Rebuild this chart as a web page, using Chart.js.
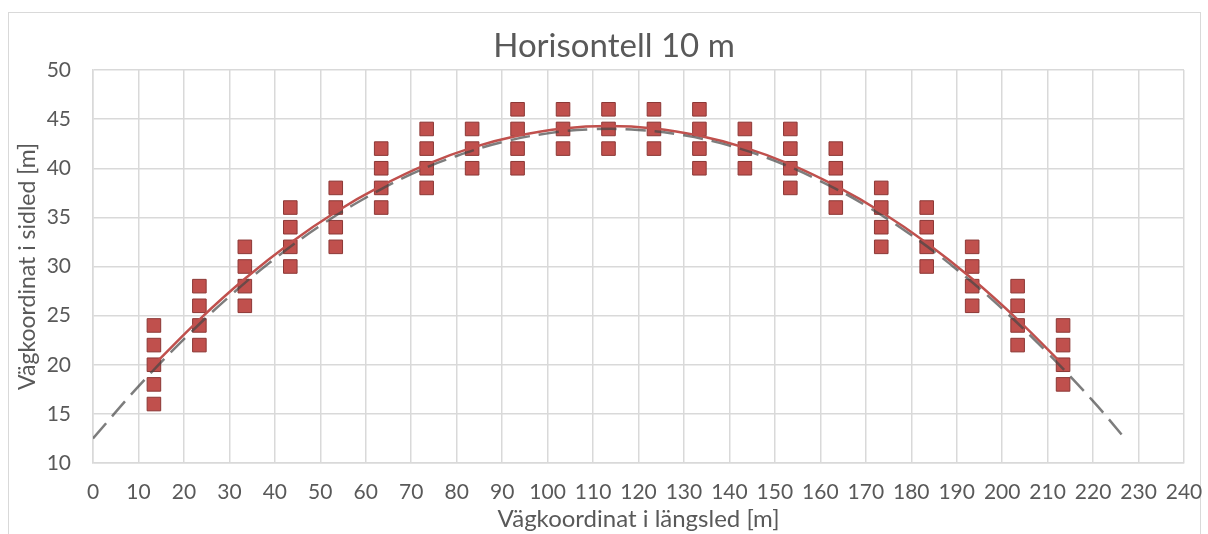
<!DOCTYPE html>
<html>
<head>
<meta charset="utf-8">
<script src="https://cdn.jsdelivr.net/npm/chart.js@4/dist/chart.umd.min.js"></script>
<style>
  html, body { margin: 0; padding: 0; background: #fff; }
  #wrap { position: relative; width: 1208px; height: 534px; overflow: hidden; }
  #frame { position: absolute; left: 8px; top: 12px; width: 1191px; height: 540px; border: 1px solid #d9d9d9; }
  canvas { position: absolute; left: 0; top: 0; }
</style>
</head>
<body>
<div id="wrap">
  <div id="frame"></div>
  <canvas id="chart" width="1208" height="534"></canvas>
</div>
<script>
// measured positions (x) and lateral coordinate (y) of the markers
const colX = [13.4, 23.4, 33.4, 43.4, 53.4, 63.4, 73.4, 83.4, 93.4, 103.4, 113.4,
              123.4, 133.4, 143.4, 153.4, 163.4, 173.4, 183.4, 193.4, 203.4, 213.4];
const colY = [
  [16, 18, 20, 22, 24],
  [22, 24, 26, 28],
  [26, 28, 30, 32],
  [30, 32, 34, 36],
  [32, 34, 36, 38],
  [36, 38, 40, 42],
  [38, 40, 42, 44],
  [40, 42, 44],
  [40, 42, 44, 46],
  [42, 44, 46],
  [42, 44, 46],
  [42, 44, 46],
  [40, 42, 44, 46],
  [40, 42, 44],
  [38, 40, 42, 44],
  [36, 38, 40, 42],
  [32, 34, 36, 38],
  [30, 32, 34, 36],
  [26, 28, 30, 32],
  [22, 24, 26, 28],
  [18, 20, 22, 24]
];

// red trend curve, read at each marker column
const trendX = colX;
const trendY = [20.0, 24.6, 28.75, 32.4, 35.55, 38.2, 40.4, 42.1, 43.3, 44.05, 44.3,
                44.05, 43.3, 42.1, 40.4, 38.2, 35.55, 32.4, 28.75, 24.6, 20.0];

// grey dashed reference curve
const refX = [0, 10, 20, 30, 40, 50, 60, 70, 80, 90, 100, 110, 120, 130, 140, 150,
              160, 170, 180, 190, 200, 210, 220, 227];
const refY = [12.5, 17.8, 22.6, 26.95, 30.8, 34.15, 37.0, 39.4, 41.25, 42.65, 43.55, 43.97,
              43.9, 43.35, 42.3, 40.75, 38.7, 36.2, 33.2, 29.7, 25.7, 21.2, 16.3, 12.5];

const chartTitle = 'Horisontell 10 m';

const markers = [];
colX.forEach((x, i) => colY[i].forEach(y => markers.push({ x: x, y: y })));
const trend = trendX.map((x, i) => ({ x: x, y: trendY[i] }));
const ref = refX.map((x, i) => ({ x: x, y: refY[i] }));

const font = 'Lato, "Open Sans", sans-serif';
const textCol = '#595959';
const gridCol = '#d9d9d9';

// title centred on the outer frame rather than the layout box
const titlePlugin = {
  id: 'frameTitle',
  afterDraw(chart) {
    const ctx = chart.ctx;
    ctx.save();
    ctx.font = '33px ' + font;
    ctx.fillStyle = textCol;
    ctx.textAlign = 'center';
    ctx.textBaseline = 'middle';
    ctx.fillText(chartTitle, 614, 46);
    ctx.restore();
  }
};

new Chart(document.getElementById('chart').getContext('2d'), {
  type: 'scatter',
  data: {
    datasets: [
      {
        data: ref, showLine: true, pointRadius: 0, tension: 0.4,
        borderColor: 'rgba(70,70,70,0.7)', borderWidth: 2.5, borderDash: [20, 9], order: 0
      },
      {
        data: trend, showLine: true, pointRadius: 0, tension: 0.4,
        borderColor: '#c0504d', borderWidth: 2.5, order: 1
      },
      {
        data: markers, pointStyle: 'rect', pointRadius: 9.6, pointHoverRadius: 9.6,
        backgroundColor: '#c0504d', borderColor: '#8c3836', borderWidth: 1, order: 2
      }
    ]
  },
  plugins: [titlePlugin],
  options: {
    responsive: false,
    animation: false,
    layout: { padding: { left: 0, right: 24, top: 70, bottom: 0 } },
    plugins: {
      legend: { display: false },
      tooltip: { enabled: false },
      title: { display: false }
    },
    scales: {
      x: {
        type: 'linear', min: 0, max: 240,
        ticks: { stepSize: 10, color: textCol, font: { family: font, size: 21 }, padding: 17 },
        grid: { color: gridCol, lineWidth: 1.5, drawTicks: false },
        border: { color: gridCol, width: 1.5 },
        title: {
          display: true, text: 'Vägkoordinat i längsled [m]', color: textCol,
          font: { family: font, size: 24 }, padding: { top: 0, bottom: 0 }
        },
        afterFit: s => { s.height = 71; s.paddingLeft = 0; s.paddingRight = 0; }
      },
      y: {
        type: 'linear', min: 10, max: 50,
        ticks: { stepSize: 5, color: textCol, font: { family: font, size: 21 }, padding: 22 },
        grid: { color: gridCol, lineWidth: 1.5, drawTicks: false },
        border: { color: gridCol, width: 1.5 },
        title: {
          display: true, text: 'Vägkoordinat i sidled [m]', color: textCol,
          font: { family: font, size: 23 }, padding: { top: 14, bottom: 0 }
        },
        afterFit: s => { s.width = 93; s.paddingTop = 0; s.paddingBottom = 0; }
      }
    }
  }
});
</script>
</body>
</html>
